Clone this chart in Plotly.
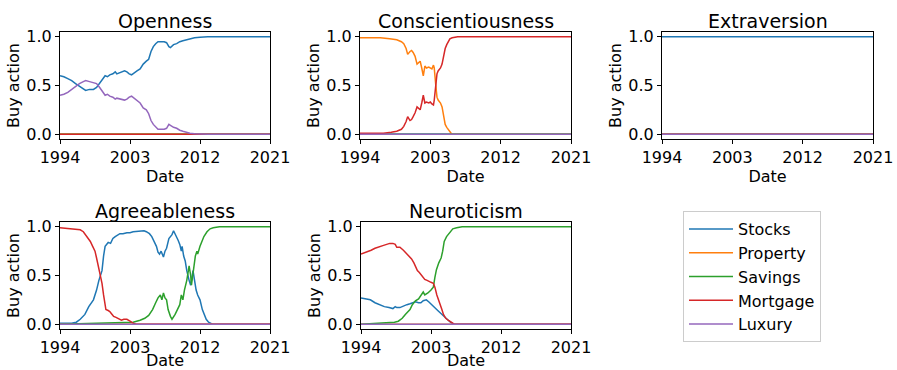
import plotly.graph_objects as go

# ---------------- data ----------------
SERIES = ["Stocks", "Property", "Savings", "Mortgage", "Luxury"]
COLORS = ["#1f77b4", "#ff7f0e", "#2ca02c", "#d62728", "#9467bd"]
PANELS = ["Openness", "Conscientiousness", "Extraversion", "Agreeableness", "Neuroticism"]
X_TICKS = [1994, 2003, 2012, 2021]
Y_TICKS = [0.0, 0.5, 1.0]

flat_x = [1994, 2021]
flat_zero = [0.0, 0.0]
flat_one = [1.0, 1.0]

# Openness
open_stocks_x = [1994.0, 1994.5, 1995.0, 1995.5, 1996.0, 1996.5, 1997.0, 1997.3, 1997.8, 1998.3, 1998.7, 1999.1, 1999.5, 1999.8, 2000.1, 2000.4, 2000.8, 2001.1, 2001.3, 2001.7, 2002.0, 2002.3, 2002.6, 2002.9, 2003.2, 2003.5, 2003.9, 2004.3, 2004.7, 2005.1, 2005.4, 2005.7, 2006.0, 2006.3, 2006.6, 2007.0, 2007.4, 2007.7, 2008.0, 2008.2, 2008.6, 2009.0, 2009.4, 2009.8, 2010.2, 2010.7, 2011.3, 2012.0, 2013.0, 2021.0]
open_stocks_y = [0.60, 0.59, 0.57, 0.55, 0.52, 0.49, 0.46, 0.45, 0.46, 0.46, 0.48, 0.52, 0.57, 0.60, 0.59, 0.61, 0.62, 0.64, 0.62, 0.63, 0.64, 0.65, 0.64, 0.62, 0.61, 0.63, 0.65, 0.67, 0.72, 0.75, 0.77, 0.85, 0.90, 0.93, 0.95, 0.95, 0.95, 0.94, 0.90, 0.89, 0.92, 0.93, 0.95, 0.96, 0.97, 0.98, 0.99, 0.995, 1.0, 1.0]
open_luxury_x = open_stocks_x
open_luxury_y = [0.40, 0.41, 0.43, 0.46, 0.49, 0.52, 0.54, 0.55, 0.54, 0.53, 0.52, 0.48, 0.43, 0.40, 0.41, 0.39, 0.38, 0.36, 0.37, 0.36, 0.36, 0.35, 0.36, 0.38, 0.39, 0.37, 0.34, 0.32, 0.27, 0.25, 0.21, 0.14, 0.10, 0.07, 0.05, 0.05, 0.05, 0.06, 0.10, 0.09, 0.07, 0.06, 0.04, 0.03, 0.02, 0.01, 0.005, 0.0, 0.0, 0.0]

# Conscientiousness
consc_property_x = [1994.0, 1996.6, 1997.8, 1998.7, 1999.3, 1999.6, 1999.9, 2000.1, 2000.4, 2000.6, 2000.8, 2001.05, 2001.3, 2001.5, 2001.7, 2001.9, 2002.1, 2002.3, 2002.5, 2002.8, 2003.0, 2003.2, 2003.4, 2003.5, 2003.7, 2003.85, 2004.0, 2004.3, 2004.5, 2004.7, 2004.9, 2005.1, 2005.3, 2005.5, 2005.75, 2021.0]
consc_property_y = [0.99, 0.99, 0.98, 0.97, 0.95, 0.93, 0.88, 0.82, 0.85, 0.86, 0.84, 0.80, 0.72, 0.74, 0.75, 0.68, 0.60, 0.70, 0.68, 0.69, 0.68, 0.67, 0.71, 0.68, 0.50, 0.38, 0.35, 0.32, 0.28, 0.18, 0.10, 0.07, 0.05, 0.02, 0.0, 0.0]
consc_mortgage_x = [1994.0, 1997.0, 1998.0, 1998.7, 1999.3, 1999.6, 1999.9, 2000.1, 2000.4, 2000.6, 2000.8, 2001.05, 2001.3, 2001.5, 2001.7, 2001.9, 2002.1, 2002.3, 2002.5, 2002.8, 2003.0, 2003.2, 2003.4, 2003.5, 2003.7, 2003.85, 2004.0, 2004.3, 2004.5, 2004.7, 2004.9, 2005.1, 2005.3, 2005.5, 2005.8, 2006.5, 2021.0]
consc_mortgage_y = [0.01, 0.01, 0.02, 0.03, 0.05, 0.08, 0.13, 0.18, 0.14, 0.15, 0.18, 0.22, 0.28, 0.26, 0.25, 0.32, 0.40, 0.32, 0.33, 0.32, 0.33, 0.31, 0.30, 0.35, 0.55, 0.62, 0.65, 0.68, 0.72, 0.80, 0.88, 0.92, 0.95, 0.98, 0.99, 1.0, 1.0]

# Agreeableness
agree_mortgage_x = [1994.0, 1995.0, 1996.1, 1996.6, 1997.0, 1997.5, 1997.9, 1998.2, 1998.5, 1998.7, 1998.9, 1999.2, 1999.4, 1999.6, 1999.8, 1999.9, 2000.2, 2000.4, 2000.7, 2000.9, 2001.2, 2001.5, 2001.9, 2002.2, 2002.6, 2003.0, 2003.4, 2003.8, 2021.0]
agree_mortgage_y = [0.99, 0.985, 0.98, 0.97, 0.95, 0.90, 0.85, 0.80, 0.75, 0.68, 0.60, 0.50, 0.42, 0.30, 0.20, 0.15, 0.14, 0.13, 0.10, 0.08, 0.07, 0.06, 0.04, 0.05, 0.05, 0.03, 0.01, 0.0, 0.0]
agree_stocks_x = [1994.0, 1995.5, 1996.1, 1996.6, 1997.2, 1997.7, 1998.3, 1998.7, 1999.0, 1999.4, 1999.6, 1999.8, 2000.2, 2000.5, 2000.8, 2001.1, 2001.7, 2002.1, 2002.6, 2003.0, 2003.4, 2004.3, 2004.8, 2005.1, 2005.5, 2005.8, 2006.1, 2006.4, 2006.6, 2006.8, 2007.0, 2007.3, 2007.5, 2007.7, 2008.0, 2008.4, 2008.6, 2008.8, 2009.0, 2009.2, 2009.4, 2009.6, 2009.7, 2009.9, 2010.1, 2010.3, 2010.6, 2010.8, 2011.1, 2011.3, 2011.5, 2011.7, 2012.0, 2012.3, 2012.5, 2012.8, 2013.1, 2013.6, 2021.0]
agree_stocks_y = [0.01, 0.01, 0.02, 0.05, 0.10, 0.18, 0.25, 0.35, 0.45, 0.55, 0.70, 0.80, 0.84, 0.83, 0.88, 0.90, 0.93, 0.93, 0.94, 0.94, 0.95, 0.96, 0.96, 0.95, 0.93, 0.90, 0.85, 0.80, 0.74, 0.72, 0.75, 0.69, 0.75, 0.78, 0.88, 0.92, 0.96, 0.93, 0.90, 0.86, 0.82, 0.75, 0.80, 0.70, 0.65, 0.55, 0.45, 0.40, 0.55, 0.42, 0.35, 0.30, 0.25, 0.15, 0.10, 0.05, 0.02, 0.0, 0.0]
agree_savings_x = [1994.0, 1999.4, 2001.9, 2003.4, 2004.3, 2004.9, 2005.4, 2005.9, 2006.3, 2006.6, 2006.9, 2007.1, 2007.3, 2007.5, 2007.7, 2007.9, 2008.2, 2008.4, 2008.8, 2009.1, 2009.4, 2009.6, 2009.8, 2010.0, 2010.3, 2010.6, 2010.8, 2010.9, 2011.2, 2011.4, 2011.6, 2011.7, 2012.0, 2012.2, 2012.5, 2012.9, 2013.3, 2013.7, 2014.5, 2021.0]
agree_savings_y = [0.0, 0.01, 0.02, 0.02, 0.04, 0.06, 0.09, 0.15, 0.22, 0.27, 0.30, 0.25, 0.32, 0.27, 0.25, 0.15, 0.08, 0.05, 0.10, 0.15, 0.20, 0.30, 0.25, 0.35, 0.45, 0.60, 0.50, 0.40, 0.60, 0.70, 0.75, 0.72, 0.80, 0.85, 0.90, 0.95, 0.98, 0.99, 1.0, 1.0]

# Neuroticism
neuro_mortgage_x = [1994.0, 1994.7, 1995.3, 1995.8, 1996.4, 1996.9, 1997.3, 1997.7, 1998.1, 1998.4, 1998.6, 1999.0, 1999.45, 1999.9, 2000.2, 2000.5, 2000.8, 2000.95, 2001.25, 2001.5, 2001.8, 2002.2, 2002.5, 2002.7, 2003.0, 2003.3, 2003.5, 2003.75, 2004.0, 2004.2, 2004.4, 2004.6, 2004.9, 2005.2, 2005.7, 2006.0, 2021.0]
neuro_mortgage_y = [0.72, 0.74, 0.76, 0.78, 0.80, 0.81, 0.82, 0.83, 0.83, 0.82, 0.79, 0.79, 0.76, 0.72, 0.70, 0.67, 0.63, 0.60, 0.55, 0.53, 0.50, 0.46, 0.45, 0.44, 0.43, 0.42, 0.38, 0.30, 0.25, 0.20, 0.15, 0.10, 0.06, 0.04, 0.01, 0.0, 0.0]
neuro_stocks_x = [1994.0, 1994.5, 1995.2, 1995.8, 1996.4, 1997.0, 1997.6, 1998.1, 1998.4, 1998.6, 1999.0, 1999.5, 1999.9, 2000.3, 2000.8, 2001.0, 2001.4, 2001.7, 2002.0, 2002.4, 2002.7, 2003.0, 2003.3, 2003.6, 2004.0, 2004.4, 2004.8, 2005.2, 2005.5, 2005.9, 2021.0]
neuro_stocks_y = [0.27, 0.26, 0.25, 0.22, 0.20, 0.18, 0.17, 0.16, 0.18, 0.17, 0.17, 0.19, 0.20, 0.21, 0.22, 0.23, 0.22, 0.22, 0.24, 0.25, 0.23, 0.21, 0.19, 0.16, 0.13, 0.10, 0.07, 0.04, 0.02, 0.0, 0.0]
neuro_savings_x = [1994.0, 1997.5, 1998.3, 1998.8, 1999.3, 1999.7, 2000.0, 2000.3, 2000.6, 2001.0, 2001.4, 2001.6, 2002.0, 2002.2, 2002.6, 2003.0, 2003.3, 2003.5, 2003.7, 2004.0, 2004.3, 2004.5, 2004.7, 2005.0, 2005.3, 2005.8, 2006.3, 2007.0, 2021.0]
neuro_savings_y = [0.0, 0.01, 0.02, 0.03, 0.06, 0.10, 0.12, 0.15, 0.20, 0.24, 0.26, 0.28, 0.33, 0.30, 0.32, 0.35, 0.38, 0.48, 0.56, 0.63, 0.68, 0.75, 0.85, 0.90, 0.93, 0.98, 0.99, 1.0, 1.0]

# series per panel, in the order Stocks, Property, Savings, Mortgage, Luxury
panel_data = {
    "Openness": [(open_stocks_x, open_stocks_y), (flat_x, flat_zero), (flat_x, flat_zero), (flat_x, flat_zero), (open_luxury_x, open_luxury_y)],
    "Conscientiousness": [(flat_x, flat_zero), (consc_property_x, consc_property_y), (flat_x, flat_zero), (consc_mortgage_x, consc_mortgage_y), (flat_x, flat_zero)],
    "Extraversion": [(flat_x, flat_one), (flat_x, flat_zero), (flat_x, flat_zero), (flat_x, flat_zero), (flat_x, flat_zero)],
    "Agreeableness": [(agree_stocks_x, agree_stocks_y), (flat_x, flat_zero), (agree_savings_x, agree_savings_y), (agree_mortgage_x, agree_mortgage_y), (flat_x, flat_zero)],
    "Neuroticism": [(neuro_stocks_x, neuro_stocks_y), (flat_x, flat_zero), (neuro_savings_x, neuro_savings_y), (neuro_mortgage_x, neuro_mortgage_y), (flat_x, flat_zero)],
}

# ---------------- layout ----------------
W, H = 897, 370
FONT = "DejaVu Sans"
FS = 16
# pixel boxes (left, right, top, bottom)
boxes = [(60, 270, 32, 139), (360, 571, 32, 139), (662, 873, 32, 139),
         (60, 270, 222, 329), (361, 571, 222, 329)]

fig = go.Figure()
layout = dict(width=W, height=H, margin=dict(l=0, r=0, t=0, b=0),
              paper_bgcolor="white", plot_bgcolor="white",
              font=dict(family=FONT, size=FS, color="black"),
              showlegend=True, annotations=[])

for i, name in enumerate(PANELS):
    k = "" if i == 0 else str(i + 1)
    l, r, t, b = boxes[i]
    for j, (xs, ys) in enumerate(panel_data[name]):
        fig.add_trace(go.Scatter(x=xs, y=ys, mode="lines", name=SERIES[j],
                                 line=dict(color=COLORS[j], width=1.5),
                                 showlegend=(i == 0), legendgroup=SERIES[j],
                                 xaxis="x" + k, yaxis="y" + k))
    common = dict(showgrid=False, zeroline=False, showline=True, linecolor="black",
                  linewidth=1, mirror=True, ticks="outside", ticklen=4, tickwidth=1,
                  tickcolor="black", tickfont=dict(size=FS, family=FONT, color="black"),
                  automargin=False)
    layout["xaxis" + k] = dict(common, domain=[l / W, r / W], range=[1994, 2021],
                               tickvals=X_TICKS, ticktext=[str(v) for v in X_TICKS],
                               anchor="y" + k,
                               title=dict(text="Date", font=dict(size=FS), standoff=0))
    layout["yaxis" + k] = dict(common, domain=[1 - b / H, 1 - t / H], range=[-0.05, 1.05],
                               tickvals=Y_TICKS, ticktext=["0.0", "0.5", "1.0"],
                               anchor="x" + k,
                               title=dict(text="Buy action", font=dict(size=FS), standoff=2))
    layout["annotations"].append(dict(text=name, x=(l + r) / 2 / W, y=1 - (t - 11) / H,
                                      xref="paper", yref="paper", xanchor="center",
                                      yanchor="middle", showarrow=False,
                                      font=dict(size=19, family=FONT, color="black")))

layout["legend"] = dict(x=683 / W, y=1 - 211 / H, xanchor="left", yanchor="top",
                        bordercolor="#cccccc", borderwidth=1, bgcolor="white",
                        font=dict(size=FS, family=FONT, color="black"),
                        itemwidth=44, tracegroupgap=0)
fig.update_layout(**layout)
fig.write_html("out.html")
